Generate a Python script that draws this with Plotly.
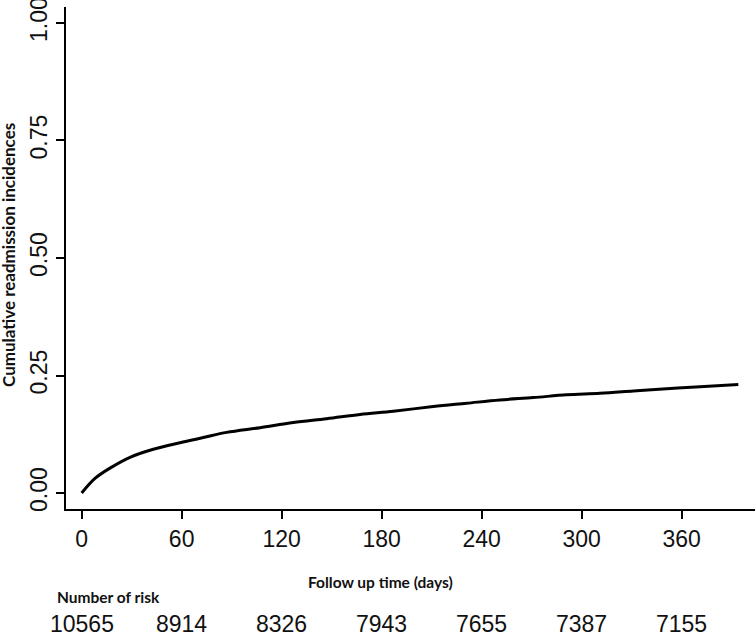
import plotly.graph_objects as go

# Cumulative incidence curve
days = [0, 8, 17, 29, 43, 59, 73, 87, 107, 127, 147, 167, 187, 211, 231, 251, 271, 291, 311, 331, 351, 371, 394]
incidence = [0.0, 0.031, 0.053, 0.076, 0.093, 0.107, 0.118, 0.129, 0.139, 0.150, 0.158, 0.167, 0.174,
             0.184, 0.191, 0.198, 0.203, 0.209, 0.212, 0.217, 0.222, 0.226, 0.231]

x_ticks = [0, 60, 120, 180, 240, 300, 360]
y_ticks = [0.0, 0.25, 0.5, 0.75, 1.0]
y_tick_labels = ["0.00", "0.25", "0.50", "0.75", "1.00"]
risk_times = [0, 60, 120, 180, 240, 300, 360]
number_at_risk = [10565, 8914, 8326, 7943, 7655, 7387, 7155]

W, H = 755, 634
L, R, T, B = 66, 0, 7, 125
pw, ph = W - L - R, H - T - B

def px_x(p):
    return (p - L) / pw

def px_y(p):
    return (H - B - p) / ph

fig = go.Figure()
fig.add_trace(go.Scatter(x=days, y=incidence, mode="lines", line=dict(color="black", width=3),
                         line_shape="spline", showlegend=False, hoverinfo="skip"))

tick_font = dict(family="Liberation Sans, Arial, sans-serif", size=23, color="#111111")
bold_font = dict(family="Lato, Calibri, sans-serif", size=15.5, color="#111111")
ytitle_font = dict(family="Lato, Calibri, sans-serif", size=17, color="#111111")

fig.update_layout(
    width=W, height=H,
    margin=dict(l=L, r=R, t=T, b=B, pad=0, autoexpand=False),
    paper_bgcolor="white", plot_bgcolor="white",
    xaxis=dict(range=[-9.4, 404], tickvals=x_ticks, ticktext=[str(v) for v in x_ticks],
               showline=True, linecolor="black", linewidth=2, mirror=False, automargin=False,
               ticks="outside", ticklen=8, tickwidth=2, tickcolor="black", ticklabeloverflow="allow",
               showgrid=False, zeroline=False, tickfont=tick_font),
    yaxis=dict(range=[-0.034, 1.034], tickvals=y_ticks, ticktext=y_tick_labels, tickangle=-90,
               showline=True, linecolor="black", linewidth=2, mirror=False, automargin=False,
               ticks="outside", ticklen=8, tickwidth=2, tickcolor="black", ticklabeloverflow="allow",
               showgrid=False, zeroline=False, tickfont=tick_font),
)

annotations = [
    dict(text="<b>Cumulative readmission incidences</b>", xref="paper", yref="paper",
         x=px_x(8), y=px_y(255), textangle=-90, showarrow=False, font=ytitle_font,
         xanchor="center", yanchor="middle"),
    dict(text="<b>Follow up time (days)</b>", xref="paper", yref="paper",
         x=px_x(380), y=px_y(582), showarrow=False, font=bold_font,
         xanchor="center", yanchor="middle"),
    dict(text="<b>Number of risk</b>", xref="paper", yref="paper",
         x=px_x(55), y=px_y(597), showarrow=False, font=bold_font,
         xanchor="left", yanchor="middle"),
]
for t, n in zip(risk_times, number_at_risk):
    annotations.append(dict(text=str(n), xref="x", yref="paper", x=t, y=px_y(624),
                            showarrow=False, font=tick_font, xanchor="center", yanchor="middle"))
fig.update_layout(annotations=annotations)

fig.write_html("out.html", config={"displayModeBar": False},
               post_script="document.body.style.margin='0';document.body.style.overflow='hidden';")
